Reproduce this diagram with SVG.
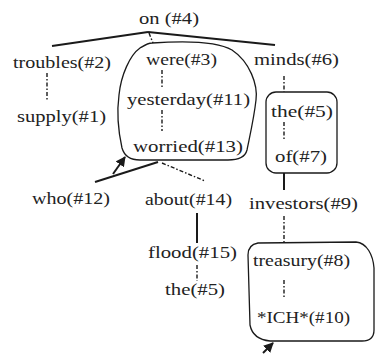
<svg xmlns="http://www.w3.org/2000/svg" width="376" height="356" viewBox="0 0 376 356">
<style>
.t text{font-size:17px;fill:#222}
.s{stroke:#1a1a1a;stroke-width:2;fill:none}
.d{stroke:#1a1a1a;stroke-width:1.4;fill:none;stroke-dasharray:4 2 1.5 2}
.b{stroke:#1a1a1a;stroke-width:1.3;fill:none}
</style>
<defs>
<marker id="ah" viewBox="0 0 10 10" refX="9" refY="5" markerWidth="5" markerHeight="5" orient="auto" markerUnits="strokeWidth">
<path d="M0,0 L10,5 L0,10 Z" fill="#1a1a1a"/>
</marker>
</defs>
<rect width="376" height="356" fill="#fff"/>
<g id="connectors">
<line class="s" x1="148" y1="32" x2="52" y2="46"/>
<line class="s" x1="148" y1="32" x2="275" y2="45"/>
<line class="d" x1="149" y1="33" x2="153" y2="43"/>
<line class="d" x1="47" y1="73" x2="47" y2="100"/>
<line class="d" x1="162" y1="70" x2="162" y2="88"/>
<line class="d" x1="162" y1="110" x2="162" y2="131"/>
<line class="d" x1="284" y1="76" x2="284" y2="92"/>
<line class="d" x1="284" y1="122" x2="284" y2="140"/>
<line class="s" x1="284" y1="173" x2="284" y2="190"/>
<line class="s" x1="158" y1="162" x2="95" y2="182"/>
<line class="d" x1="162" y1="163" x2="205" y2="181"/>
<line class="s" x1="197" y1="213" x2="197" y2="243"/>
<line class="d" x1="197" y1="265" x2="197" y2="281"/>
<line class="d" x1="284" y1="216" x2="284" y2="243"/>
<line class="d" x1="284" y1="280" x2="284" y2="298"/>
<line class="s" x1="113" y1="174" x2="125" y2="157" marker-end="url(#ah)"/>
<line class="s" x1="263" y1="353" x2="273" y2="343" marker-end="url(#ah)"/>
</g>
<g id="groups">
<path class="b" d="M152,43 C180,41 215,40 232,50 C250,62 258,85 256,100 C254,118 250,135 247,150 C245,158 238,160 228,160 L140,160 C130,160 124,155 122,148 C118,130 117,110 119,95 C121,75 130,55 140,48 C145,45 148,43 152,43 Z"/>
<rect class="b" x="266" y="92" width="71" height="81" rx="10"/>
<path class="b" d="M258,243 L356,242 C367,243 373,255 374,268 L374,330 C374,338 370,341 362,341 L270,341 C260,340 252,335 250,325 L248,255 C248,247 252,244 258,243 Z"/>
</g>
<g class="t" font-family="Liberation Serif, DejaVu Serif, Times New Roman, serif">
<g id="n4"><text x="139" y="24" textLength="60" lengthAdjust="spacingAndGlyphs">on (#4)</text></g>
<g id="n2"><text x="13" y="68" textLength="98" lengthAdjust="spacingAndGlyphs">troubles(#2)</text></g>
<g id="n1"><text x="17" y="122" textLength="89" lengthAdjust="spacingAndGlyphs">supply(#1)</text></g>
<g id="n3"><text x="146" y="65" textLength="71" lengthAdjust="spacingAndGlyphs">were(#3)</text></g>
<g id="n11"><text x="127" y="105" textLength="123" lengthAdjust="spacingAndGlyphs">yesterday(#11)</text></g>
<g id="n13"><text x="133" y="152" textLength="110" lengthAdjust="spacingAndGlyphs">worried(#13)</text></g>
<g id="n6"><text x="254" y="65" textLength="85" lengthAdjust="spacingAndGlyphs">minds(#6)</text></g>
<g id="n5a"><text x="271" y="117" textLength="62" lengthAdjust="spacingAndGlyphs">the(#5)</text></g>
<g id="n7"><text x="275" y="162" textLength="52" lengthAdjust="spacingAndGlyphs">of(#7)</text></g>
<g id="n9"><text x="249" y="209" textLength="109" lengthAdjust="spacingAndGlyphs">investors(#9)</text></g>
<g id="n12"><text x="32" y="204" textLength="78" lengthAdjust="spacingAndGlyphs">who(#12)</text></g>
<g id="n14"><text x="145" y="205" textLength="87" lengthAdjust="spacingAndGlyphs">about(#14)</text></g>
<g id="n15"><text x="148" y="258" textLength="89" lengthAdjust="spacingAndGlyphs">flood(#15)</text></g>
<g id="n5b"><text x="165" y="295" textLength="60" lengthAdjust="spacingAndGlyphs">the(#5)</text></g>
<g id="n8"><text x="253" y="266" textLength="97" lengthAdjust="spacingAndGlyphs">treasury(#8)</text></g>
<g id="n10"><text x="257" y="323" textLength="93" lengthAdjust="spacingAndGlyphs">*ICH*(#10)</text></g>
</g>
</svg>
